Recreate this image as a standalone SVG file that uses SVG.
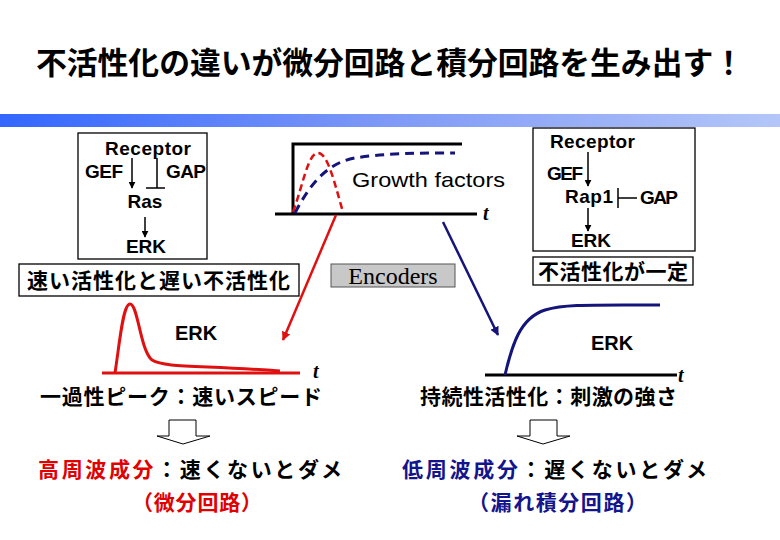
<svg xmlns="http://www.w3.org/2000/svg" width="780" height="540" viewBox="0 0 780 540">
<defs>
<linearGradient id="bar" x1="0" y1="0" x2="1" y2="0">
<stop offset="0" stop-color="#3366ff"/>
<stop offset="0.5" stop-color="#7f9af6"/>
<stop offset="1" stop-color="#b4c6f8"/>
</linearGradient>
<marker id="ab" viewBox="0 0 10 10" refX="9" refY="5" markerWidth="7" markerHeight="7" markerUnits="userSpaceOnUse" orient="auto"><path d="M0,0 L10,5 L0,10 Z" fill="#000"/></marker>
<marker id="ar" viewBox="0 0 10 10" refX="9" refY="5" markerWidth="9" markerHeight="9" markerUnits="userSpaceOnUse" orient="auto"><path d="M0,0 L10,5 L0,10 Z" fill="#e01010"/></marker>
<marker id="an" viewBox="0 0 10 10" refX="9" refY="5" markerWidth="9" markerHeight="9" markerUnits="userSpaceOnUse" orient="auto"><path d="M0,0 L10,5 L0,10 Z" fill="#14147a"/></marker>
</defs>
<style>
.jp{font-family:"Noto Sans CJK JP","Noto Sans",sans-serif;font-weight:bold;}
.en{font-family:"Liberation Sans",Arial,sans-serif;font-weight:bold;}
.box{fill:#fff;stroke:#000;stroke-width:1.3;}
.ln{fill:none;stroke:#000;stroke-width:1.5;}
.ax{fill:none;stroke:#000;stroke-width:3;}
.ti{font-family:"Liberation Serif",serif;font-style:italic;font-weight:bold;font-size:20px;}
</style>
<rect width="780" height="540" fill="#fff"/>
<g id="title">
<text class="jp" x="36" y="74" font-size="31" font-weight="900" textLength="708" lengthAdjust="spacingAndGlyphs">不活性化の違いが微分回路と積分回路を生み出す！</text>
<rect x="0" y="114" width="780" height="13" fill="url(#bar)"/>
</g>
<g id="left-box">
<rect class="box" x="78" y="133" width="129" height="126"/>
<text class="en" x="105" y="155" font-size="19" textLength="86">Receptor</text>
<text class="en" x="85" y="178" font-size="19" textLength="38">GEF</text>
<text class="en" x="166" y="178" font-size="19" textLength="40">GAP</text>
<text class="en" x="145" y="208" font-size="19" text-anchor="middle">Ras</text>
<text class="en" x="146" y="253" font-size="19" text-anchor="middle">ERK</text>
</g>
<g id="left-label">
<rect class="box" x="19" y="264" width="280" height="32"/>
<text class="jp" x="27" y="288" font-size="21" textLength="263">速い活性化と遅い不活性化</text>
</g>
<g id="growth-factors">
<path class="ax" d="M275,214 H477 M293,214 V144 H462"/>
<path d="M293,212 C303,185 308,153 318,153 C328,153 335,185 343,212" fill="none" stroke="#e01010" stroke-width="2.5" stroke-dasharray="7,4"/>
<path d="M295,213 C308,188 325,163 355,158 C385,153 420,153 455,153" fill="none" stroke="#14147a" stroke-width="3" stroke-dasharray="9,6"/>
<text x="352" y="187" font-family="Liberation Sans, Arial, sans-serif" font-size="21" textLength="153" lengthAdjust="spacingAndGlyphs">Growth factors</text>
<text class="ti" x="483" y="220">t</text>
</g>
<g id="encoders">
<rect x="331" y="264" width="124" height="23" fill="#c8c8c8" stroke="#555" stroke-width="1"/>
<text x="393" y="284" font-family="Liberation Serif, serif" font-size="24" text-anchor="middle">Encoders</text>
</g>
<g id="right-box">
<rect class="box" x="533" y="128" width="162" height="123"/>
<text class="en" x="550" y="148" font-size="19" textLength="85">Receptor</text>
<text class="en" x="547" y="180" font-size="19" textLength="36">GEF</text>
<text class="en" x="565" y="203" font-size="19" textLength="48">Rap1</text>
<text class="en" x="640" y="204" font-size="19" textLength="38">GAP</text>
<text class="en" x="591" y="247" font-size="19" text-anchor="middle">ERK</text>
</g>
<g id="right-label">
<rect class="box" x="533" y="257" width="160" height="28"/>
<text class="jp" x="538" y="279" font-size="21" textLength="150">不活性化が一定</text>
</g>
<g id="left-graph">
<path d="M102,373 H300" fill="none" stroke="#e01010" stroke-width="3"/>
<path d="M115,373 C120,340 123,304 130,304 C138,304 140,350 152,360 C165,368 200,365 280,371" fill="none" stroke="#e01010" stroke-width="3"/>
<text class="en" x="196" y="340" font-size="20" text-anchor="middle">ERK</text>
<text class="ti" x="313" y="378">t</text>
<text class="jp" x="40" y="404" font-size="21" textLength="282">一過性ピーク：速いスピード</text>
</g>
<g id="right-graph">
<path class="ax" d="M485,375 H677"/>
<path d="M505,375 C512,345 520,318 545,310 C565,304 590,305 660,305" fill="none" stroke="#14147a" stroke-width="3"/>
<text class="en" x="612" y="350" font-size="20" text-anchor="middle">ERK</text>
<text class="ti" x="678" y="382">t</text>
<text class="jp" x="420" y="404" font-size="21" textLength="257">持続性活性化：刺激の強さ</text>
</g>
<g id="left-result">
<path d="M169,420 H196 V436 H210 L183,444 L157,436 H169 Z" fill="#fff" stroke="#000" stroke-width="1"/>
<text class="jp" x="38" y="477" font-size="21" textLength="304"><tspan fill="#e00000">高周波成分</tspan>：速くないとダメ</text>
<text class="jp" x="132" y="510" font-size="21" textLength="130" fill="#e00000">（微分回路）</text>
</g>
<g id="right-result">
<path d="M530,420 H557 V436 H570 L543,444 L517,436 H530 Z" fill="#fff" stroke="#000" stroke-width="1"/>
<text class="jp" x="402" y="477" font-size="21" textLength="305"><tspan fill="#14148c">低周波成分</tspan>：遅くないとダメ</text>
<text class="jp" x="468" y="510" font-size="21" textLength="179" fill="#14148c">（漏れ積分回路）</text>
</g>
<g id="connectors">
<path class="ln" d="M132,158 V188" marker-end="url(#ab)"/>
<path class="ln" d="M157,158 V188 M146,188 H165"/>
<path class="ln" d="M145,217 V237" marker-end="url(#ab)"/>
<path class="ln" d="M588,152 V186" marker-end="url(#ab)"/>
<path class="ln" d="M618,188 V208 M618,198 H637"/>
<path class="ln" d="M588,208 V231" marker-end="url(#ab)"/>
<path d="M336,215 L283,340" fill="none" stroke="#e01010" stroke-width="2.5" marker-end="url(#ar)"/>
<path d="M443,222 L498,335" fill="none" stroke="#14147a" stroke-width="2.5" marker-end="url(#an)"/>
</g>
</svg>
